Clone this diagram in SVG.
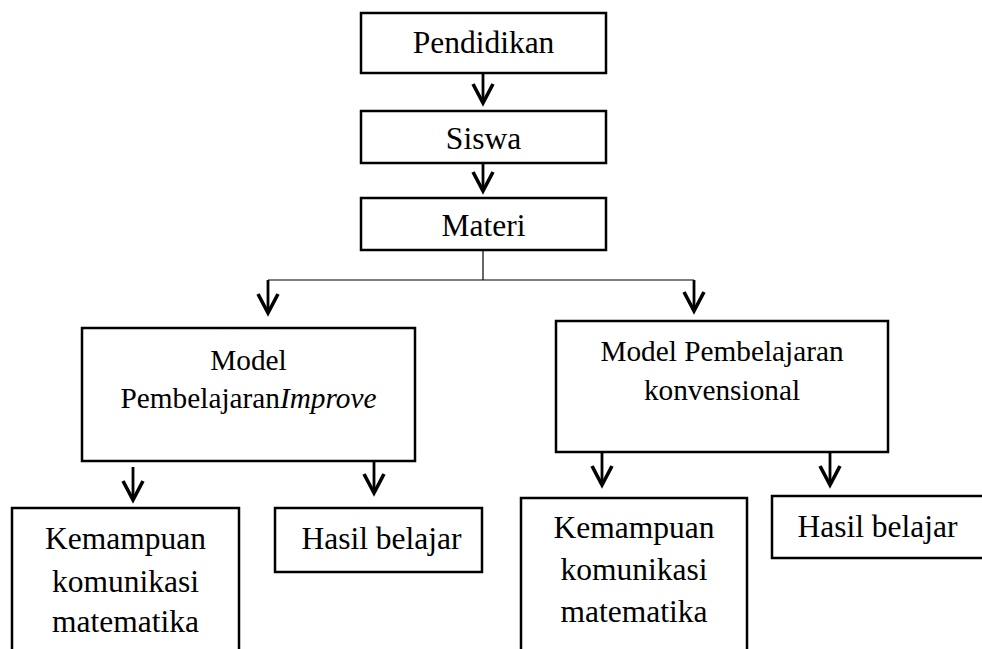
<svg xmlns="http://www.w3.org/2000/svg" width="982" height="649" viewBox="0 0 982 649">
  <defs>
    <style>
      .box { fill: #ffffff; stroke: #000000; stroke-width: 2.5; }
      .t { font-family: "Liberation Serif", "Times New Roman", serif; font-size: 31.5px; fill: #000000; text-anchor: middle; }
      .tm { font-family: "Liberation Serif", "Times New Roman", serif; font-size: 29.3px; fill: #000000; text-anchor: middle; }
      .thin { fill: none; stroke: #000000; stroke-width: 1.2; }
      .arr { fill: none; stroke: #000000; stroke-width: 2.8; marker-end: url(#head); }
    </style>
    <marker id="head" markerUnits="userSpaceOnUse" orient="auto" refX="0" refY="0" markerWidth="30" markerHeight="30" overflow="visible">
      <path d="M-19,-10 L0,0 L-19,10" fill="none" stroke="#000000" stroke-width="3.6" stroke-linejoin="miter"/>
    </marker>
  </defs>
  <rect width="982" height="649" fill="#ffffff"/>

  <g id="connectors">
    <line class="arr" x1="483" y1="74" x2="483" y2="103"/>
    <line class="arr" x1="483" y1="164" x2="483" y2="191"/>
    <polyline class="thin" points="483,251 483,280"/>
    <polyline class="thin" points="268,280 694,280"/>
    <line class="arr" x1="268" y1="280" x2="268" y2="313"/>
    <line class="arr" x1="694" y1="280" x2="694" y2="311"/>
    <line class="arr" x1="133" y1="467" x2="133" y2="500"/>
    <line class="arr" x1="374" y1="462" x2="374" y2="493"/>
    <line class="arr" x1="602" y1="453" x2="602" y2="485"/>
    <line class="arr" x1="830" y1="453" x2="830" y2="485"/>
  </g>

  <g id="pendidikan">
    <rect class="box" x="361" y="13" width="245" height="60"/>
    <text class="t" x="483.5" y="53">Pendidikan</text>
  </g>
  <g id="siswa">
    <rect class="box" x="361" y="111" width="245" height="52"/>
    <text class="t" x="483.5" y="149">Siswa</text>
  </g>
  <g id="materi">
    <rect class="box" x="361" y="198" width="245" height="52"/>
    <text class="t" x="483.5" y="236">Materi</text>
  </g>

  <g id="model-improve">
    <rect class="box" x="82" y="328" width="333" height="133"/>
    <text class="tm" x="248.5" y="370">Model</text>
    <text class="tm" x="248.5" y="408">Pembelajaran<tspan font-style="italic">Improve</tspan></text>
  </g>
  <g id="model-konvensional">
    <rect class="box" x="556" y="321" width="332" height="131"/>
    <text class="tm" x="722" y="361">Model Pembelajaran</text>
    <text class="tm" x="722" y="400">konvensional</text>
  </g>

  <g id="kemampuan-left">
    <rect class="box" x="12" y="508" width="227" height="160"/>
    <text class="t" x="125.5" y="549">Kemampuan</text>
    <text class="t" x="125.5" y="592">komunikasi</text>
    <text class="t" x="125.5" y="632">matematika</text>
  </g>
  <g id="hasil-left">
    <rect class="box" x="275" y="508" width="207" height="64"/>
    <text class="t" x="381.5" y="549">Hasil belajar</text>
  </g>

  <g id="kemampuan-right">
    <rect class="box" x="521" y="498" width="226" height="170"/>
    <text class="t" x="634" y="538">Kemampuan</text>
    <text class="t" x="634" y="580">komunikasi</text>
    <text class="t" x="634" y="622">matematika</text>
  </g>
  <g id="hasil-right">
    <rect class="box" x="772" y="496" width="220" height="62"/>
    <text class="t" x="877.5" y="537">Hasil belajar</text>
  </g>
</svg>
